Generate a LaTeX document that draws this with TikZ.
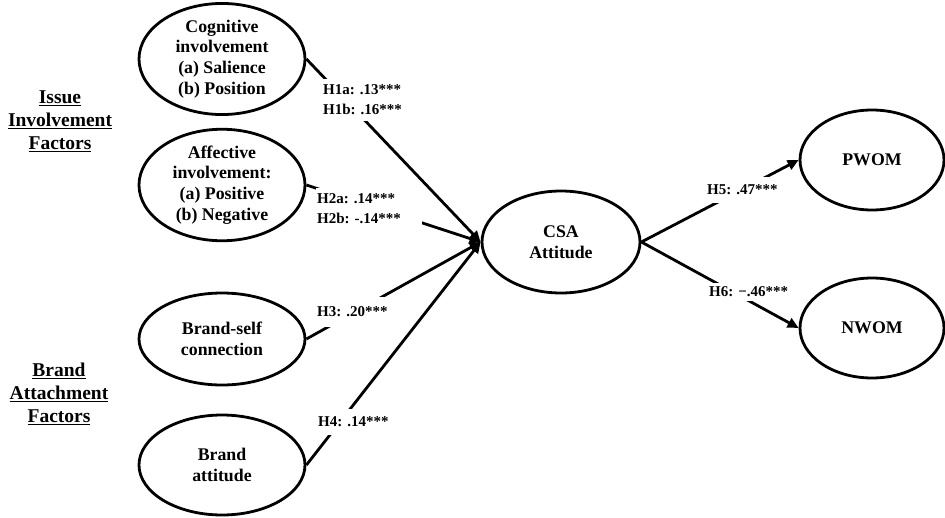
\documentclass[tikz,border=0pt]{standalone}
\usepackage{fontspec}
\setmainfont{Liberation Serif}
\usetikzlibrary{shapes.geometric,arrows.meta}
\tikzset{
  latent/.style={ellipse, draw, line width=2.8pt, inner sep=0pt,
    minimum width=166pt, minimum height=100pt, align=center,
    font=\fontsize{17.8}{20.8}\selectfont\bfseries},
  path/.style={line width=2.8pt, -{Triangle[length=11pt,width=10pt]}},
  coef/.style={fill=white, inner xsep=1pt, inner ysep=6pt, anchor=west, align=left,
    font=\fontsize{15}{20}\selectfont\bfseries},
  group/.style={align=center, font=\fontsize{19.5}{23.2}\selectfont\bfseries}
}
\begin{document}
\begin{tikzpicture}[x=1pt,y=-1pt]
\useasboundingbox (0,0) rectangle (945,517);
% latent variables
\node[latent, minimum height=102pt] (cog) at (222,59) {Cognitive\\involvement\\(a) Salience\\(b) Position};
\node[latent, minimum height=104pt] (aff) at (222,185) {Affective\\involvement:\\(a) Positive\\(b) Negative};
\node[latent, minimum height=92pt] (bsc) at (222,339) {Brand-self\\connection};
\node[latent] (bat) at (222,465) {Brand\\attitude};
\node[latent, minimum width=158pt, minimum height=102pt] (csa) at (561,242) {CSA\\Attitude};
\node[latent, minimum width=144pt] (pwom) at (872,160) {PWOM};
\node[latent, minimum width=144pt] (nwom) at (872,328) {NWOM};
% group labels
\node[group] (issue) at (60,121) {\underline{Issue}\\\underline{Involvement}\\\underline{Factors}};
\node[group] (brand) at (59,394) {\underline{Brand}\\\underline{Attachment}\\\underline{Factors}};
% paths
\draw[path] (cog.east) -- (csa.west);
\draw[path] (aff.east) -- (csa.west);
\draw[path] (bsc.east) -- (csa.west);
\draw[path] (bat.east) -- (csa.west);
\draw[path] (csa.east) -- (pwom.west);
\draw[path] (csa.east) -- (nwom.west);
% coefficients
\node[coef] (h1) at (322,100) {H1a: .13***\\H1b: .16***};
\node[coef] (h2) at (316,209) {H2a: .14***\\H2b: -.14***\hspace*{20pt}};
\node[coef, inner ysep=10pt] (h3) at (316,312) {H3: .20***};
\node[coef, inner ysep=8pt] (h4) at (317,422) {H4: .14***};
\node[coef, inner ysep=8pt] (h5) at (706,190) {H5: .47***};
\node[coef, inner ysep=3.5pt] (h6) at (708,292) {H6: −.46***};
\end{tikzpicture}
\end{document}
